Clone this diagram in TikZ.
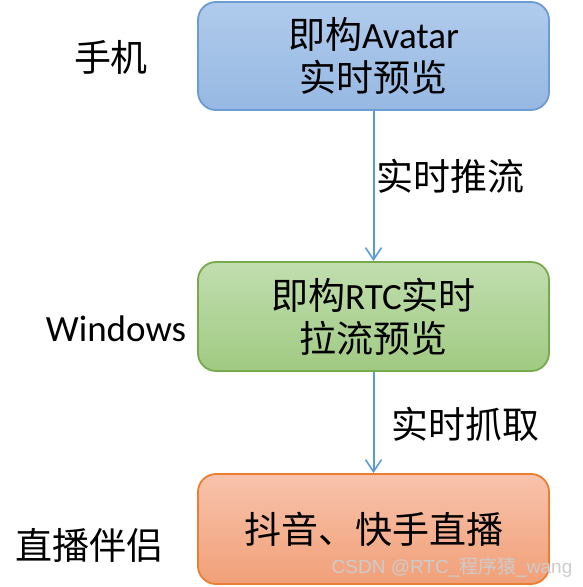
\documentclass[tikz,border=0pt]{standalone}
\usepackage{fontspec}
\setmainfont{Carlito}
\newfontfamily\cjk{Noto Sans CJK SC}
\newfontfamily\marksans{Liberation Sans}
\usepackage{tikz}
\usetikzlibrary{arrows.meta}
\usepackage{xcolor}

\definecolor{bluefill1}{RGB}{176,203,236}
\definecolor{bluefill2}{RGB}{150,184,226}
\definecolor{blueline}{RGB}{108,156,213}
\definecolor{greenfill1}{RGB}{193,222,175}
\definecolor{greenfill2}{RGB}{160,202,130}
\definecolor{greenline}{RGB}{118,170,76}
\definecolor{orangefill1}{RGB}{248,195,172}
\definecolor{orangefill2}{RGB}{241,160,120}
\definecolor{orangeline}{RGB}{237,125,49}
\definecolor{arrowblue}{RGB}{91,155,213}

\begin{document}
\begin{tikzpicture}[x=1pt,y=1pt]
		
		\tikzset{box/.style = {rectangle,rounded corners=18pt,line width=1.8pt,minimum width=351pt,align=center,font=\fontsize{37}{43}\selectfont}}
		\tikzset{side/.style = {font=\fontsize{37}{43}\selectfont}}
		\tikzset{edge/.style = {arrowblue,line width=2pt,-{Straight Barb[length=12pt,width=16pt,line width=1.6pt]}}}
		\useasboundingbox (0,0) rectangle (582,-587);
		\node[box,minimum height=108pt,draw=blueline,top color=bluefill1,bottom color=bluefill2] (avatar) at (373.5,-56) {{\cjk 即构}Avatar\\{\cjk 实时预览}};
		\node[box,minimum height=109pt,draw=greenline,top color=greenfill1,bottom color=greenfill2] (rtc) at (373.5,-316.5) {{\cjk 即构}RTC{\cjk 实时}\\{\cjk 拉流预览}};
		\node[box,minimum height=110pt,draw=orangeline,top color=orangefill1,bottom color=orangefill2] (douyin) at (373.5,-529) {\cjk 抖音、快手直播};
		\node[side] (phone) at (111,-57) {\cjk 手机};
		\node[side] (windows) at (116,-329) {Windows};
		\node[side] (companion) at (90,-545) {\cjk 直播伴侣};
		%edges
		\draw[edge] (avatar) -- node[right,black,side,xshift=-1pt,yshift=10pt] {\cjk 实时推流} (rtc);
		\draw[edge] (rtc) -- node[right,black,side,xshift=14pt,yshift=-2pt] {\cjk 实时抓取} (douyin);
		%watermark
		\node[gray!40,font=\marksans\fontsize{19}{21}\selectfont] (mark) at (452,-567) {CSDN @RTC\_{\cjk 程序猿}\_wang};
		\end{tikzpicture}
\end{document}
